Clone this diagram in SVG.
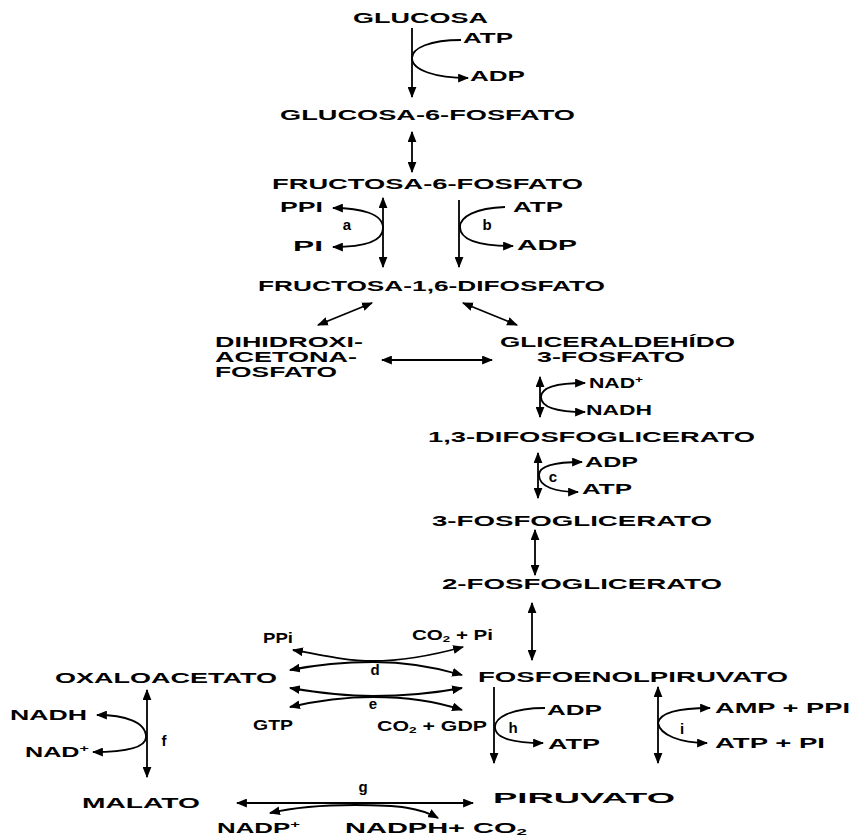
<svg xmlns="http://www.w3.org/2000/svg" width="854" height="836" viewBox="0 0 854 836">
<defs>
<style>
.t{font-family:"Liberation Sans",Arial,sans-serif;font-weight:bold;font-size:14px;fill:#000}
.s{font-family:"Liberation Sans",Arial,sans-serif;font-weight:bold;font-size:15px;fill:#000;text-anchor:middle}
.c{fill:none;stroke:#000;stroke-width:1.8}
.a2{marker-start:url(#ah);marker-end:url(#ah)}
.a1{marker-end:url(#ah)}
</style>
<marker id="ah" viewBox="0 0 10 8" refX="9" refY="4" markerWidth="11" markerHeight="9" markerUnits="userSpaceOnUse" orient="auto-start-reverse"><path d="M0,0 L10,4 L0,8 z" fill="#000"/></marker>
</defs>
<rect width="854" height="836" fill="#fff"/>

<g id="connectors">
<line class="c a1" x1="412" y1="28" x2="412" y2="97"/>
<path class="c a1" d="M461,40 C430,40 412,48 412,58 C412,70 435,78 468,78"/>
<line class="c a2" x1="412" y1="132" x2="412" y2="172"/>
<line class="c a2" x1="383" y1="198" x2="383" y2="267"/>
<path class="c a1" d="M383,228 C383,214 362,208 333,208"/>
<path class="c a1" d="M383,228 C383,242 362,247 333,247"/>
<line class="c a1" x1="459" y1="200" x2="459" y2="267"/>
<path class="c a1" d="M505,207 C475,208 460,217 460,227 C460,240 480,246 513,246"/>
<line class="c a2" x1="372" y1="303" x2="318" y2="325"/>
<line class="c a2" x1="463" y1="303" x2="517" y2="325"/>
<line class="c a2" x1="382" y1="360" x2="492" y2="360"/>
<line class="c a2" x1="540" y1="377" x2="540" y2="417"/>
<path class="c a1" d="M541,397 C541,386 560,383 585,383"/>
<path class="c a1" d="M541,397 C541,408 560,412 585,412"/>
<line class="c a2" x1="538" y1="453" x2="538" y2="498"/>
<path class="c a1" d="M539,475 C539,465 558,462 582,462"/>
<path class="c a1" d="M539,475 C539,487 556,492 578,492"/>
<line class="c a2" x1="535" y1="530" x2="535" y2="575"/>
<line class="c a2" x1="532" y1="603" x2="532" y2="660"/>
<path class="c a2" d="M293,650 C330,657 350,661 373,661 C400,661 430,656 463,647"/>
<path class="c a2" d="M290,670 C320,664 345,662 373,662 C405,662 435,667 462,675"/>
<path class="c a2" d="M290,688 C320,693 345,696 373,696 C405,696 435,693 462,688"/>
<path class="c a2" d="M290,707 C320,700 345,697 373,697 C405,697 435,701 462,710"/>
<line class="c a2" x1="147" y1="690" x2="147" y2="777"/>
<path class="c a1" d="M146,737 C146,722 125,715 97,715"/>
<path class="c a1" d="M146,737 C146,748 125,752 93,752"/>
<line class="c a1" x1="494" y1="687" x2="494" y2="763"/>
<path class="c a1" d="M545,708 C510,708 495,718 495,727 C495,738 512,743 543,743"/>
<line class="c a2" x1="658" y1="687" x2="658" y2="763"/>
<path class="c a1" d="M658,723 C660,712 680,708 710,708"/>
<path class="c a1" d="M658,723 C660,735 680,743 707,743"/>
<line class="c a2" x1="237" y1="803" x2="473" y2="803"/>
<path class="c a2" d="M270,813 C300,806 330,805 355,805 C400,805 420,808 438,818"/>
</g>

<g id="glucosa"><text class="t" x="353" y="23" textLength="135" lengthAdjust="spacingAndGlyphs">GLUCOSA</text></g>
<g id="atp1"><text class="t" x="463" y="43" textLength="50" lengthAdjust="spacingAndGlyphs">ATP</text></g>
<g id="adp1"><text class="t" x="470" y="81" textLength="55" lengthAdjust="spacingAndGlyphs">ADP</text></g>
<g id="g6p"><text class="t" x="280" y="120" textLength="295" lengthAdjust="spacingAndGlyphs">GLUCOSA-6-FOSFATO</text></g>
<g id="f6p"><text class="t" x="272" y="189" textLength="311" lengthAdjust="spacingAndGlyphs">FRUCTOSA-6-FOSFATO</text></g>
<g id="ppi1"><text class="t" x="280" y="212" textLength="43" lengthAdjust="spacingAndGlyphs">PPI</text></g>
<g id="pi1"><text class="t" x="293" y="251" textLength="30" lengthAdjust="spacingAndGlyphs">PI</text></g>
<g id="la"><text class="s" x="347" y="230">a</text></g>
<g id="atp2"><text class="t" x="513" y="212" textLength="50" lengthAdjust="spacingAndGlyphs">ATP</text></g>
<g id="adp2"><text class="t" x="517" y="250" textLength="60" lengthAdjust="spacingAndGlyphs">ADP</text></g>
<g id="lb"><text class="s" x="487" y="230">b</text></g>
<g id="fbp"><text class="t" x="258" y="291" textLength="347" lengthAdjust="spacingAndGlyphs">FRUCTOSA-1,6-DIFOSFATO</text></g>
<g id="dhap">
<text class="t" x="215" y="347" textLength="148" lengthAdjust="spacingAndGlyphs">DIHIDROXI-</text>
<text class="t" x="215" y="362" textLength="142" lengthAdjust="spacingAndGlyphs">ACETONA-</text>
<text class="t" x="215" y="377" textLength="122" lengthAdjust="spacingAndGlyphs">FOSFATO</text>
</g>
<g id="gap">
<text class="t" x="500" y="347" textLength="235" lengthAdjust="spacingAndGlyphs">GLICERALDEHÍDO</text>
<text class="t" x="537" y="362" textLength="148" lengthAdjust="spacingAndGlyphs">3-FOSFATO</text>
</g>
<g id="nadp1"><text class="t" x="589" y="388" textLength="54" lengthAdjust="spacingAndGlyphs">NAD<tspan font-size="9" dy="-5">+</tspan></text></g>
<g id="nadh1"><text class="t" x="586" y="415" textLength="66" lengthAdjust="spacingAndGlyphs">NADH</text></g>
<g id="bpg"><text class="t" x="428" y="442" textLength="327" lengthAdjust="spacingAndGlyphs">1,3-DIFOSFOGLICERATO</text></g>
<g id="adp3"><text class="t" x="585" y="467" textLength="53" lengthAdjust="spacingAndGlyphs">ADP</text></g>
<g id="atp3"><text class="t" x="582" y="494" textLength="50" lengthAdjust="spacingAndGlyphs">ATP</text></g>
<g id="lc"><text class="s" x="553" y="482">c</text></g>
<g id="pg3"><text class="t" x="432" y="526" textLength="280" lengthAdjust="spacingAndGlyphs">3-FOSFOGLICERATO</text></g>
<g id="pg2"><text class="t" x="442" y="589" textLength="280" lengthAdjust="spacingAndGlyphs">2-FOSFOGLICERATO</text></g>
<g id="ppi2"><text class="t" x="263" y="643" textLength="30" lengthAdjust="spacingAndGlyphs">PPi</text></g>
<g id="co2pi"><text class="t" x="412" y="640" textLength="81" lengthAdjust="spacingAndGlyphs">CO<tspan font-size="9" dy="2">2</tspan><tspan dy="-2"> + Pi</tspan></text></g>
<g id="oaa"><text class="t" x="55" y="683" textLength="222" lengthAdjust="spacingAndGlyphs">OXALOACETATO</text></g>
<g id="pep"><text class="t" x="478" y="682" textLength="310" lengthAdjust="spacingAndGlyphs">FOSFOENOLPIRUVATO</text></g>
<g id="ld"><text class="s" x="375" y="675">d</text></g>
<g id="le"><text class="s" x="373" y="709">e</text></g>
<g id="gtp"><text class="t" x="253" y="730" textLength="40" lengthAdjust="spacingAndGlyphs">GTP</text></g>
<g id="co2gdp"><text class="t" x="377" y="731" textLength="110" lengthAdjust="spacingAndGlyphs">CO<tspan font-size="9" dy="2">2</tspan><tspan dy="-2"> + GDP</tspan></text></g>
<g id="nadh2"><text class="t" x="10" y="720" textLength="77" lengthAdjust="spacingAndGlyphs">NADH</text></g>
<g id="nadp2"><text class="t" x="25" y="757" textLength="64" lengthAdjust="spacingAndGlyphs">NAD<tspan font-size="9" dy="-5">+</tspan></text></g>
<g id="lf"><text class="s" x="164" y="746">f</text></g>
<g id="adp4"><text class="t" x="547" y="715" textLength="55" lengthAdjust="spacingAndGlyphs">ADP</text></g>
<g id="atp4"><text class="t" x="548" y="749" textLength="52" lengthAdjust="spacingAndGlyphs">ATP</text></g>
<g id="lh"><text class="s" x="513" y="733">h</text></g>
<g id="ampppi"><text class="t" x="715" y="713" textLength="135" lengthAdjust="spacingAndGlyphs">AMP + PPI</text></g>
<g id="atppi"><text class="t" x="715" y="748" textLength="110" lengthAdjust="spacingAndGlyphs">ATP + PI</text></g>
<g id="li"><text class="s" x="682" y="734">i</text></g>
<g id="malato"><text class="t" x="82" y="808" textLength="118" lengthAdjust="spacingAndGlyphs">MALATO</text></g>
<g id="piruvato"><text class="t" x="493" y="803" textLength="182" lengthAdjust="spacingAndGlyphs">PIRUVATO</text></g>
<g id="lg"><text class="s" x="363" y="792">g</text></g>
<g id="nadpplus"><text class="t" x="217" y="833" textLength="83" lengthAdjust="spacingAndGlyphs">NADP<tspan font-size="9" dy="-5">+</tspan></text></g>
<g id="nadphco2"><text class="t" x="345" y="833" textLength="182" lengthAdjust="spacingAndGlyphs">NADPH+ CO<tspan font-size="9" dy="2">2</tspan></text></g>
</svg>
